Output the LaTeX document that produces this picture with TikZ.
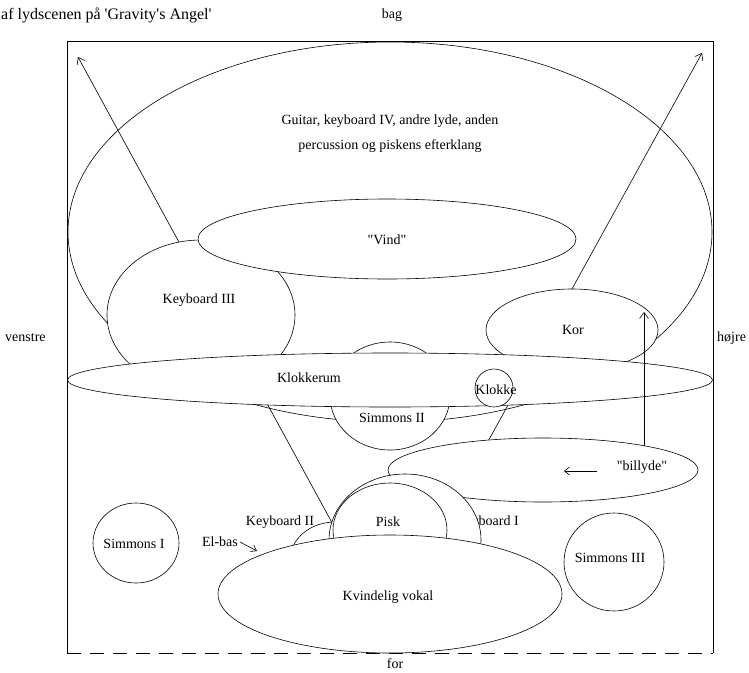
\documentclass[tikz,border=0pt]{standalone}
\usepackage{fontspec}
\setmainfont{Liberation Serif}
\usetikzlibrary{arrows.meta,shapes.geometric}
\begin{document}
\begin{tikzpicture}[x=1pt,y=-1pt,
  font=\fontsize{14}{17}\selectfont,
  shp/.style={draw, fill=white, line width=0.6pt, ellipse, inner sep=0pt, outer sep=0pt},
  lbl/.style={inner sep=0pt},
  frm/.style={line width=0.7pt},
  arr/.style={line width=0.6pt, -{Straight Barb[length=6pt,width=9pt]}}]
\useasboundingbox (0,0) rectangle (749,672);
% frame
\coordinate (fbl) at (67,653);
\coordinate (ftl) at (67,41);
\coordinate (ftr) at (713,41);
\coordinate (fbr) at (713,653);
\draw[frm] (fbl) -- (ftl) -- (ftr) -- (fbr);
\draw[frm, dash pattern=on 14pt off 9pt] (fbl) -- (fbr);
% outer labels
\node[lbl, anchor=west, font=\fontsize{16}{19}\selectfont] (title) at (1,15) {af lydscenen på \textquotesingle Gravity\textquotesingle s Angel\textquotesingle};
\node[lbl] (bag) at (392,15) {bag};
\node[lbl, anchor=west] (venstre) at (5,338) {venstre};
\node[lbl, anchor=west] (hojre) at (717,338) {højre};
\node[lbl] (for) at (395,664) {for};
% big ellipse
\node[shp, minimum width=644pt, minimum height=380pt] (guitar) at (390,232) {};
\node[lbl, align=center, font=\fontsize{14}{25}\selectfont] (guitartxt) at (390,134) {Guitar, keyboard IV, andre lyde, anden\\percussion og piskens efterklang};
% long arrows
\coordinate (la) at (336,530);
\coordinate (lt) at (78,57);
\coordinate (ra) at (486,445);
\coordinate (rt) at (702,53);
\draw[arr] (la) -- (lt);
\draw[arr] (ra) -- (rt);
% Keyboard III
\node[shp, minimum width=188pt, minimum height=150pt] (kb3) at (201,315) {};
\node[lbl] (kb3txt) at (199,300) {Keyboard III};
% Vind
\node[shp, minimum width=378pt, minimum height=80pt] (vind) at (387,239) {};
\node[lbl] (vindtxt) at (387,240) {\textquotedbl Vind\textquotedbl};
% Kor
\node[shp, minimum width=172pt, minimum height=82pt] (kor) at (572,330) {};
\node[lbl] (kortxt) at (573,330) {Kor};
% Simmons II
\node[shp, minimum width=120pt, minimum height=108pt] (sim2) at (390,396) {};
\node[lbl] (sim2txt) at (392,418) {Simmons II};
% Klokkerum
\node[shp, minimum width=645pt, minimum height=54pt] (klokkerum) at (390,380) {};
\node[lbl] (klokkerumtxt) at (309,378) {Klokkerum};
% Klokke
\node[shp, minimum width=38pt, minimum height=38pt] (klokke) at (494,388) {};
\node[lbl] (klokketxt) at (496,390) {Klokke};
% billyde
\node[shp, minimum width=310pt, minimum height=64pt] (billyde) at (543,470) {};
\node[lbl] (billydetxt) at (642,467) {\textquotedbl billyde\textquotedbl};
\coordinate (ba) at (597,471);
\coordinate (bt) at (564,471);
\draw[arr, -{Straight Barb[length=5pt,width=8pt]}] (ba) -- (bt);
% vertical arrow
\coordinate (va) at (644,446);
\coordinate (vt) at (644,312);
\draw[arr] (va) -- (vt);
% Simmons I and III
\node[shp, minimum width=86pt, minimum height=80pt] (sim1) at (136,543) {};
\node[lbl] (sim1txt) at (134,544) {Simmons I};
\node[shp, minimum width=100pt, minimum height=98pt] (sim3) at (614,562) {};
\node[lbl] (sim3txt) at (610,558) {Simmons III};
% Keyboard I text (partly hidden)
\node[lbl] (kb1txt) at (487,522) {Keyboard I};
% Keyboard II
\node[shp, minimum width=90pt, minimum height=76pt] (kb2) at (335,560) {};
\node[lbl] (kb2txt) at (280,522) {Keyboard II};
% Keyboard I
\node[shp, minimum width=152pt, minimum height=132pt] (kb1) at (405,540) {};
% Pisk
\node[shp, minimum width=114pt, minimum height=94pt] (pisk) at (390,530) {};
\node[lbl] (pisktxt) at (388,522) {Pisk};
% Kvindelig vokal
\node[shp, minimum width=344pt, minimum height=118pt] (kvinde) at (390,594) {};
\node[lbl] (kvindetxt) at (388,597) {Kvindelig vokal};
% El-bas
\node[lbl] (elbas) at (220,542) {El-bas};
\coordinate (ea) at (240,542);
\coordinate (et) at (257,551);
\draw[arr, -{Straight Barb[length=5pt,width=7pt]}] (ea) -- (et);
\end{tikzpicture}
\end{document}
